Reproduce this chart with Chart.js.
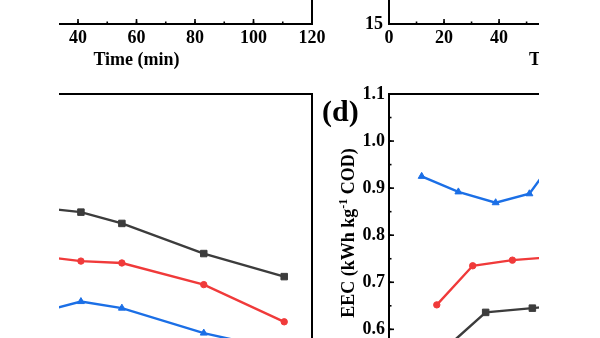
<!DOCTYPE html>
<html><head><meta charset="utf-8">
<script src="https://cdn.jsdelivr.net/npm/chart.js@4.4.1/dist/chart.umd.min.js"></script>
<style>
html,body{margin:0;padding:0;background:#fff;width:600px;height:338px;overflow:hidden;position:relative}
canvas{position:absolute}
.mask{position:absolute;top:0;height:338px;background:#fff;z-index:5}
#plabel{position:absolute;left:322px;top:94px;font:bold 30px "Liberation Serif";line-height:34px;color:#000;z-index:6}
#ytitle{position:absolute;left:348px;top:233px;transform:translate(-50%,-50%) rotate(-90deg);white-space:nowrap;font:bold 18px "Liberation Serif";line-height:20px;color:#000;z-index:6}
#ytitle sup{font-size:12px;line-height:0}
</style></head><body>
<canvas id="cA" width="402" height="274" style="left:-60px;top:-200px"></canvas>
<canvas id="cB" width="456" height="274" style="left:329px;top:-200px"></canvas>
<canvas id="cC" width="402" height="310" style="left:-60px;top:84px"></canvas>
<canvas id="cD" width="430" height="310" style="left:330px;top:84px"></canvas>
<div class="mask" style="left:0;width:59px"></div>
<div class="mask" style="left:539px;width:61px"></div>
<div id="plabel">(d)</div>
<div id="ytitle">EEC (kWh kg<sup>-1</sup> COD)</div>
<script>
// ---- data ----
const timeTitle = 'Time (min)';
const seriesNames = ['Series 1', 'Series 2', 'Series 3'];
// panel (c) (bottom-left): x in min
const cTimes = [27.5, 41, 55, 83, 110.5];
const cBlack = [0.858, 0.849, 0.825, 0.761, 0.712];
const cRed   = [0.755, 0.745, 0.741, 0.695, 0.616];
const cBlue  = [0.637, 0.659, 0.645, 0.592, 0.554];
// panel (d) (bottom-right)
const dBlackX = [20, 35.8, 53.1, 66];
const dBlack  = [0.555, 0.636, 0.645, 0.652];
const dRedX   = [17.7, 31, 45.7, 59];
const dRed    = [0.652, 0.735, 0.747, 0.753];
const dBlueX  = [12.1, 25.7, 39.5, 52, 65];
const dBlue   = [0.925, 0.892, 0.869, 0.888, 0.99];
// axis ranges / ticks
const xRangeA = [0, 120], xRangeB = [0, 133], xRangeC = [0, 120], xRangeD = [0, 130];
const yRangeB = [15, 35];
const eecRange = [0.5, 1.1];

const FONT = {family:'"Liberation Serif", "Times New Roman", serif', size:18, weight:'bold'};
const COLORS = {black:'#3c3c3c', red:'#f03a3a', blue:'#1b6fe6'};

const pts = (xs, ys) => xs.map((x, i) => ({x, y: ys[i]}));

const frameTicks = {
  id: 'frameTicks',
  afterDraw(chart, args, o) {
    const {ctx, chartArea: a, scales} = chart;
    ctx.save();
    ctx.strokeStyle = '#000';
    ctx.lineWidth = 2;
    ctx.strokeRect(a.left, a.top, a.right - a.left, a.bottom - a.top);
    ctx.lineWidth = 1.6;
    const ticks = (s, step, len, horiz) => {
      const i0 = Math.ceil(s.min / step - 1e-6), i1 = Math.floor(s.max / step + 1e-6);
      for (let i = i0; i <= i1; i++) {
        const p = s.getPixelForValue(i * step);
        ctx.beginPath();
        if (horiz) { ctx.moveTo(p, a.bottom); ctx.lineTo(p, a.bottom - len); }
        else { ctx.moveTo(a.left, p); ctx.lineTo(a.left + len, p); }
        ctx.stroke();
      }
    };
    if (o.xMajor) { ticks(scales.x, o.xMajor, 5, true); ticks(scales.x, o.xMajor / 2, 2.5, true); }
    if (o.yMajor) { ticks(scales.y, o.yMajor, 5, false); ticks(scales.y, o.yMajor / 2, 2.5, false); }
    ctx.restore();
  }
};

function xAxis(range, step, show) {
  return {
    type: 'linear', min: range[0], max: range[1], position: 'bottom', display: show,
    ticks: {stepSize: step, padding: 4, font: FONT, color: '#000', includeBounds: false, maxRotation: 0, autoSkip: false},
    grid: {display: false, drawTicks: false}, border: {display: false},
    title: {display: show, text: timeTitle, font: FONT, color: '#000', padding: {top: 0, bottom: 3}},
    afterFit(s) { s.height = show ? 50 : 0; s.paddingLeft = 0; s.paddingRight = 0; }
  };
}
function yAxis(range, step, show, width, pad, fmt) {
  return {
    type: 'linear', min: range[0], max: range[1], display: show,
    ticks: {stepSize: step, padding: pad, font: FONT, color: '#000', includeBounds: false, autoSkip: false,
            callback: fmt || (v => v)},
    grid: {display: false, drawTicks: false}, border: {display: false},
    afterFit(s) { s.width = show ? width : 0; s.paddingTop = 0; s.paddingBottom = 0; }
  };
}
function ds(label, data, color, style, r) {
  return {label, data, borderColor: color, backgroundColor: color, borderWidth: 2.4,
          pointStyle: style, pointRadius: r, pointBorderWidth: 1, pointBackgroundColor: color,
          pointBorderColor: color, tension: 0, clip: false};
}
function make(id, cfg) {
  return new Chart(document.getElementById(id), {
    type: 'line',
    data: {datasets: cfg.datasets},
    options: {
      responsive: false, animation: false, devicePixelRatio: 1,
      layout: {padding: cfg.padding},
      plugins: {legend: {display: false}, tooltip: {enabled: false}, frameTicks: cfg.ft},
      scales: {x: cfg.x, y: cfg.y}
    },
    plugins: [frameTicks]
  });
}

// top-left panel
make('cA', {datasets: [], padding: {left: 21, top: 10, right: 30, bottom: 0},
  x: xAxis(xRangeA, 20, true), y: yAxis([0, 1], 0.2, false, 0, 0),
  ft: {xMajor: 20}});
// top-right panel
make('cB', {datasets: [], padding: {left: 0, top: 10, right: 30, bottom: 0},
  x: xAxis(xRangeB, 20, true), y: yAxis(yRangeB, 5, true, 60, 6),
  ft: {xMajor: 20, yMajor: 5}});
// bottom-left panel
make('cC', {datasets: [
    ds(seriesNames[0], pts(cTimes, cBlack), COLORS.black, 'rect', 4.6),
    ds(seriesNames[1], pts(cTimes, cRed), COLORS.red, 'circle', 3.2),
    ds(seriesNames[2], pts(cTimes, cBlue), COLORS.blue, 'triangle', 4)
  ], padding: {left: 21, top: 10, right: 30, bottom: 17.6},
  x: xAxis(xRangeC, 20, false), y: yAxis(eecRange, 0.1, false, 0, 0),
  ft: {}});
// bottom-right panel (d)
make('cD', {datasets: [
    ds(seriesNames[0], pts(dBlackX, dBlack), COLORS.black, 'rect', 4.6),
    ds(seriesNames[1], pts(dRedX, dRed), COLORS.red, 'circle', 3.2),
    ds(seriesNames[2], pts(dBlueX, dBlue), COLORS.blue, 'triangle', 4)
  ], padding: {left: 0, top: 10, right: 20, bottom: 17.6},
  x: xAxis(xRangeD, 20, false), y: yAxis(eecRange, 0.1, true, 59, 4, v => v.toFixed(1)),
  ft: {yMajor: 0.1}});
</script>
</body></html>
